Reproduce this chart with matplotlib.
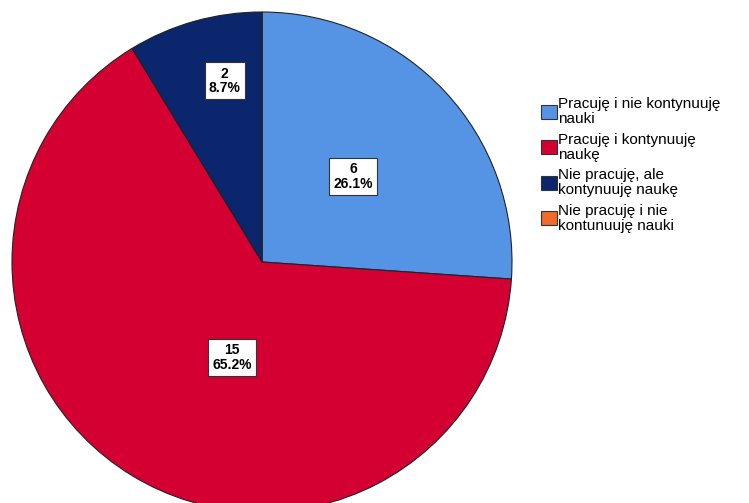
import numpy as np
import matplotlib.pyplot as plt
from matplotlib.patches import Patch

# dane
categories = ['Pracuję i nie kontynuuję\nnauki',
              'Pracuję i kontynuuję\nnaukę',
              'Nie pracuję, ale\nkontynuuję naukę',
              'Nie pracuję i nie\nkontunuuję nauki']
counts = [6, 15, 2, 0]
colors = ['#5594E4', '#D50032', '#0B266C', '#F26B2A']

# położenie etykiet: odległość od środka (część promienia) i przesunięcie kąta
label_dist = [0.5, 0.4, 0.74, 0.5]
label_shift = [0, 14, -4, 0]

plt.rcParams['font.family'] = ['Liberation Sans', 'DejaVu Sans']

fig = plt.figure(figsize=(7.49, 5.03), dpi=100)
W, H = 749, 503
# koło: środek (262, 262) px, promień 250 px
ax = fig.add_axes([12 / W, (H - 512) / H, 500 / W, 500 / H])

wedges, _ = ax.pie(counts, colors=colors, startangle=90, counterclock=False,
                   radius=1, wedgeprops=dict(edgecolor='#222222', linewidth=0.8))
ax.set_xlim(-1, 1)
ax.set_ylim(-1, 1)
ax.axis('off')
for w in wedges:
    w.set_clip_on(False)

total = sum(counts)
for w, n, d, s in zip(wedges, counts, label_dist, label_shift):
    if n == 0:
        continue
    mid = np.deg2rad((w.theta1 + w.theta2) / 2 + s)
    ax.text(d * np.cos(mid), d * np.sin(mid), f'{n}\n{100 * n / total:.1f}%',
            ha='center', va='center', fontsize=10, fontweight='bold',
            linespacing=1.05,
            bbox=dict(boxstyle='square,pad=0.3', fc='white', ec='#333333', lw=0.8))

handles = [Patch(facecolor=c, edgecolor='#333333', linewidth=0.8) for c in colors]
fig.legend(handles, categories, loc='upper left',
           bbox_to_anchor=(541 / W, 1 - 97 / H), frameon=False,
           fontsize=11, handlelength=1.05, handleheight=1.05, handletextpad=0.05,
           labelspacing=0.42, borderpad=0, borderaxespad=0)
for t in fig.legends[0].get_texts():
    t.set_linespacing(1.1)

plt.savefig('out.png', dpi=100)
plt.close(fig)
